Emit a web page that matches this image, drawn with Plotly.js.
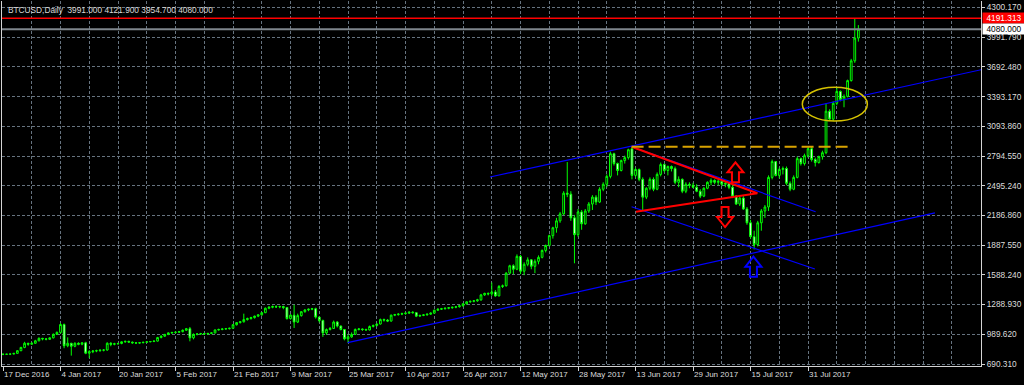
<!DOCTYPE html>
<html>
<head>
<meta charset="utf-8">
<script src="https://cdn.plot.ly/plotly-3.0.1.min.js"></script>
<style>html,body{margin:0;padding:0;background:#000;}#chart{width:1024px;height:385px;}</style>
</head>
<body>
<div id="chart"></div>
<script>
// ---- data (BTCUSD daily, 17 Dec 2016 .. 14 Aug 2017, one bar per trading day) ----
const open = [790,788,790,791,798,825,858,900,890,900,925,950,945,940,955,990,1010,1090,875,900,
870,900,890,905,800,815,822,825,830,832,900,890,895,898,915,920,912,905,902,906,
910,915,918,922,958,972,990,1005,1010,1012,1018,1032,1048,955,990,995,998,994,1000,1005,
1035,1040,1045,1048,1052,1088,1110,1118,1140,1150,1160,1175,1188,1210,1255,1265,1272,1268,1272,1262,
1150,1185,1115,1180,1220,1238,1245,1250,1165,1130,1005,1040,1050,1115,1075,1040,945,965,990,1040,
1045,1040,1035,1070,1080,1095,1140,1135,1125,1185,1190,1195,1200,1205,1215,1210,1175,1182,1188,1195,
1205,1235,1245,1250,1255,1260,1265,1270,1280,1300,1320,1325,1330,1340,1390,1405,1400,1420,1380,1475,
1482,1610,1685,1650,1780,1630,1700,1745,1680,1730,1770,1840,1890,1990,2070,2140,2210,2420,2410,2170,
2000,2230,2110,2240,2310,2380,2330,2460,2510,2590,2820,2720,2650,2750,2780,2870,2600,2660,2560,2380,
2470,2560,2460,2610,2710,2650,2690,2670,2530,2560,2440,2510,2500,2480,2440,2390,2470,2530,2550,2530,
2540,2510,2520,2480,2390,2310,2370,2260,2120,1980,1900,2120,2240,2280,2580,2740,2600,2660,2670,2520,
2460,2580,2770,2720,2800,2870,2760,2730,2790,2830,3250,3170,3330,3450,3370,3400,3560,3760,3991];
const high = [795,792,795,800,830,865,915,905,910,935,960,955,950,960,1000,1020,1105,1100,960,905,
910,910,910,915,830,830,835,838,840,910,912,905,905,920,925,925,918,912,910,915,
920,922,928,965,980,995,1010,1015,1020,1025,1040,1055,1065,1000,1000,1005,1005,1005,1010,1040,
1048,1050,1055,1058,1095,1115,1125,1200,1160,1168,1180,1192,1215,1262,1275,1282,1285,1280,1280,1268,
1195,1290,1200,1225,1245,1252,1258,1260,1170,1140,1050,1065,1130,1125,1080,1045,990,1010,1050,1055,
1050,1048,1080,1090,1100,1150,1150,1145,1190,1198,1205,1210,1212,1222,1225,1215,1190,1195,1200,1212,
1240,1252,1258,1262,1265,1270,1275,1285,1305,1325,1332,1338,1350,1400,1412,1415,1515,1440,1490,1495,
1620,1695,1700,1800,1795,1720,1770,1752,1750,1790,1850,1900,2000,2080,2170,2230,2440,2735,2440,2200,
2260,2250,2260,2330,2400,2400,2480,2530,2610,2840,2830,2730,2760,2800,2870,2890,2680,2670,2580,2480,
2580,2580,2630,2730,2720,2700,2700,2690,2590,2570,2530,2530,2525,2510,2460,2480,2540,2570,2560,2560,
2550,2540,2530,2500,2400,2390,2390,2280,2150,2040,2140,2260,2300,2600,2760,2745,2680,2690,2690,2540,
2600,2790,2780,2820,2885,2890,2780,2800,2850,3330,3270,3350,3490,3460,3420,3570,3780,4191.313,4121.9];
const low = [780,782,786,788,795,820,850,875,885,895,920,930,930,935,950,985,1000,850,860,775,
860,880,880,790,750,800,810,815,818,825,870,880,885,890,905,905,895,895,895,900,
905,910,912,918,950,965,982,995,1000,1005,1010,1025,920,940,980,985,985,988,992,1000,
1028,1032,1038,1040,1048,1080,1100,1110,1130,1140,1150,1165,1180,1205,1245,1255,1258,1255,1245,1140,
1140,1055,1105,1170,1210,1225,1235,1150,1110,965,985,1030,1045,1060,1030,930,905,955,985,1030,
1025,1028,1030,1060,1070,1090,1120,1115,1120,1175,1180,1185,1190,1198,1200,1165,1168,1175,1180,1188,
1200,1228,1238,1242,1245,1250,1255,1262,1272,1292,1310,1315,1320,1330,1380,1385,1380,1370,1375,1460,
1475,1600,1600,1640,1600,1590,1680,1650,1610,1700,1760,1820,1880,1960,2020,2120,2200,2380,2140,1710,
1980,2050,2100,2220,2250,2300,2320,2440,2480,2570,2700,2600,2640,2720,2760,2560,2580,2540,2240,2360,
2450,2440,2450,2590,2630,2600,2640,2510,2480,2420,2420,2470,2470,2430,2370,2380,2460,2500,2510,2500,
2490,2480,2460,2370,2300,2290,2250,2100,1960,1850,1880,2040,2170,2240,2560,2590,2570,2610,2500,2440,
2450,2570,2700,2700,2780,2740,2690,2720,2760,2815,3150,3150,3310,3350,3290,3390,3550,3740,3954.7];
const close = [788,790,791,798,825,858,900,890,900,925,950,945,940,955,990,1010,1090,875,900,870,
900,890,905,800,815,822,825,830,832,900,890,895,898,915,920,912,905,902,906,910,
915,918,922,958,972,990,1005,1010,1012,1018,1032,1048,955,990,995,998,994,1000,1005,1035,
1040,1045,1048,1052,1088,1110,1118,1140,1150,1160,1175,1188,1210,1255,1265,1272,1268,1272,1262,1150,
1185,1115,1180,1220,1238,1245,1250,1165,1130,1005,1040,1050,1115,1075,1040,945,965,990,1040,1045,
1040,1035,1070,1080,1095,1140,1135,1125,1185,1190,1195,1200,1205,1215,1210,1175,1182,1188,1195,1205,
1235,1245,1250,1255,1260,1265,1270,1280,1300,1320,1325,1330,1340,1390,1405,1400,1420,1380,1475,1482,
1610,1685,1650,1780,1630,1700,1745,1680,1730,1770,1840,1890,1990,2070,2140,2210,2420,2410,2170,2000,
2230,2110,2240,2310,2380,2330,2460,2510,2590,2820,2720,2650,2750,2780,2860,2600,2660,2560,2380,2470,
2560,2460,2610,2710,2650,2690,2670,2530,2560,2440,2510,2500,2480,2440,2390,2470,2530,2550,2530,2540,
2510,2520,2480,2390,2310,2370,2260,2120,1980,1900,2120,2240,2280,2580,2740,2600,2660,2670,2520,2460,
2580,2770,2720,2800,2870,2760,2730,2790,2830,3250,3170,3330,3450,3370,3400,3560,3760,3991,4080];

// date axis labels (every 16 bars)
const dateTickBars = [0,16,32,48,64,80,96,112,128,144,160,176,192,208,224];
const dateTickLabels = ['17 Dec 2016','4 Jan 2017','20 Jan 2017','5 Feb 2017','21 Feb 2017','9 Mar 2017',
  '25 Mar 2017','10 Apr 2017','26 Apr 2017','12 May 2017','28 May 2017','13 Jun 2017','29 Jun 2017',
  '15 Jul 2017','31 Jul 2017'];
// price axis labels
const priceTickLabels = ['690.310','989.620','1288.930','1588.240','1887.550','2186.860','2495.240',
  '2794.550','3093.860','3393.170','3692.480','3991.790','4300.170'];
const priceTickLow = 690.31, priceTickHigh = 4300.17;

// drawn objects (bar index, price)
const resistanceLevel = 4191.313;
const bidLevel = 4080.0;
const lowerChannel = [[95.9, 905.9],[259.3, 2220.2]];
const upperChannel = [[135.5, 2583.8],[272.5, 3673.0]];
const fallUpper = [[174.9, 2890.6],[226.1, 2232.4]];
const fallLower = [[174.9, 2283.0],[225.9, 1652.2]];
const triUpper = [[174.9, 2890.6],[209.9, 2418.7]];
const triLower = [[176.1, 2232.4],[209.9, 2418.7]];
const peakLevel = [[174.9, 2890.6],[235.9, 2890.6]];
const breakoutEllipse = {x0:222.4, x1:240.5, y0:3150.9, y1:3492.1};
const arrowsUp = [{i:203.8, p:2631.4, color:'#ff0000'},{i:208.8, p:1675.5, color:'#0000ff'}];
const arrowsDown = [{i:200.9, p:2178.7, color:'#ff0000'}];

// ---- build ----
const idx = close.map((_, k) => k);
const nT = priceTickLabels.length;
const priceTickVals = priceTickLabels.map((_, k) => priceTickLow + k * (priceTickHigh - priceTickLow) / (nT - 1));
const GRID = '#66737f';
const AXIS = '#d4d4d4';
const FONT = 'Liberation Sans, Arial, sans-serif';

function seg(pts, color, width, dash) {
  return {type:'line', xref:'x', yref:'y', x0:pts[0][0], y0:pts[0][1], x1:pts[1][0], y1:pts[1][1],
          line:{color:color, width:width, dash:dash||'solid'}};
}
function arrow(a, up) {
  const s = up ? 1 : -1;
  const pts = [[0,10*s],[8,0],[3.5,0],[3.5,-10*s],[-3.5,-10*s],[-3.5,0],[-8,0]];
  const path = 'M' + pts.map(q => q[0] + ',' + q[1]).join('L') + 'Z';
  return {type:'path', xref:'x', yref:'y', xsizemode:'pixel', ysizemode:'pixel',
          xanchor:a.i, yanchor:a.p, path:path, line:{color:a.color, width:2}, fillcolor:'rgba(0,0,0,0)'};
}

const shapes = [
  {type:'line', xref:'paper', yref:'y', x0:0, x1:1, y0:resistanceLevel, y1:resistanceLevel, line:{color:'#ff0000', width:1.5}},
  {type:'line', xref:'paper', yref:'y', x0:0, x1:1, y0:bidLevel, y1:bidLevel, line:{color:'#7f868d', width:2}},
  seg(lowerChannel, '#0000ff', 1.2),
  seg(upperChannel, '#0000ff', 1.2),
  seg(fallUpper, '#0000ff', 1.2),
  seg(fallLower, '#0000ff', 1.2),
  seg(triUpper, '#ff0000', 2),
  seg(triLower, '#ff0000', 2),
  seg(peakLevel, '#d9a300', 2, '12px,5px'),
  {type:'circle', xref:'x', yref:'y', x0:breakoutEllipse.x0, x1:breakoutEllipse.x1, y0:breakoutEllipse.y0, y1:breakoutEllipse.y1,
   line:{color:'#d6c200', width:1.5}},
].concat(arrowsUp.map(a => arrow(a, true)), arrowsDown.map(a => arrow(a, false)));

const trace = {
  type:'candlestick', x:idx, open:open, high:high, low:low, close:close,
  increasing:{line:{color:'#00ff00', width:1}, fillcolor:'#000000'},
  decreasing:{line:{color:'#00ff00', width:1}, fillcolor:'#ffffff'},
  whiskerwidth:0, hoverinfo:'skip'
};

const layout = {
  width:1024, height:385,
  paper_bgcolor:'#000000', plot_bgcolor:'#000000',
  margin:{l:2, r:43, t:1, b:19, pad:0},
  showlegend:false,
  xaxis:{
    range:[-0.278, 272.12], tickmode:'array', tickvals:dateTickBars, ticktext:dateTickLabels,
    ticks:'outside', ticklen:4, tickcolor:AXIS, ticklabelposition:'outside right',
    tickfont:{family:FONT, size:8, color:'#dcdcdc'},
    showgrid:true, gridcolor:GRID, gridwidth:1, griddash:'3px,2px',
    minor:{tickmode:'linear', tick0:0, dtick:8, showgrid:true, gridcolor:GRID, gridwidth:1, griddash:'3px,2px', ticks:''},
    showline:true, linecolor:AXIS, linewidth:1, zeroline:false,
    rangeslider:{visible:false}, fixedrange:true
  },
  yaxis:{
    side:'right', range:[670.06, 4366.0], tickmode:'array', tickvals:priceTickVals, ticktext:priceTickLabels,
    ticks:'outside', ticklen:3, tickcolor:AXIS,
    tickfont:{family:FONT, size:8.3, color:'#dcdcdc'},
    showgrid:true, gridcolor:GRID, gridwidth:1, griddash:'3px,2px',
    showline:true, mirror:true, linecolor:AXIS, linewidth:1, zeroline:false, fixedrange:true
  },
  shapes:shapes,
  annotations:[
    {xref:'paper', yref:'paper', x:0, y:1, xanchor:'left', yanchor:'top', xshift:4, yshift:-2, showarrow:false,
     text:'BTCUSD,Daily&nbsp;&nbsp;' + [open[open.length-1], high[high.length-1], low[low.length-1], close[close.length-1]].map(v => v.toFixed(3)).join(' '),
     font:{family:FONT, size:8.3, color:'#d8d8d8'}},
    {xref:'paper', yref:'y', x:1, y:resistanceLevel, xanchor:'left', yanchor:'middle', xshift:1, showarrow:false,
     text:resistanceLevel.toFixed(3), bgcolor:'#ff0000', borderpad:0, width:42, align:'center',
     font:{family:FONT, size:8.3, color:'#ffffff'}},
    {xref:'paper', yref:'y', x:1, y:bidLevel, xanchor:'left', yanchor:'middle', xshift:1, showarrow:false,
     text:bidLevel.toFixed(3), bgcolor:'#ffffff', borderpad:0, width:42, align:'center',
     font:{family:FONT, size:8.3, color:'#000000'}}
  ]
};

Plotly.newPlot('chart', [trace], layout, {staticPlot:true, displayModeBar:false});
</script>
</body>
</html>
